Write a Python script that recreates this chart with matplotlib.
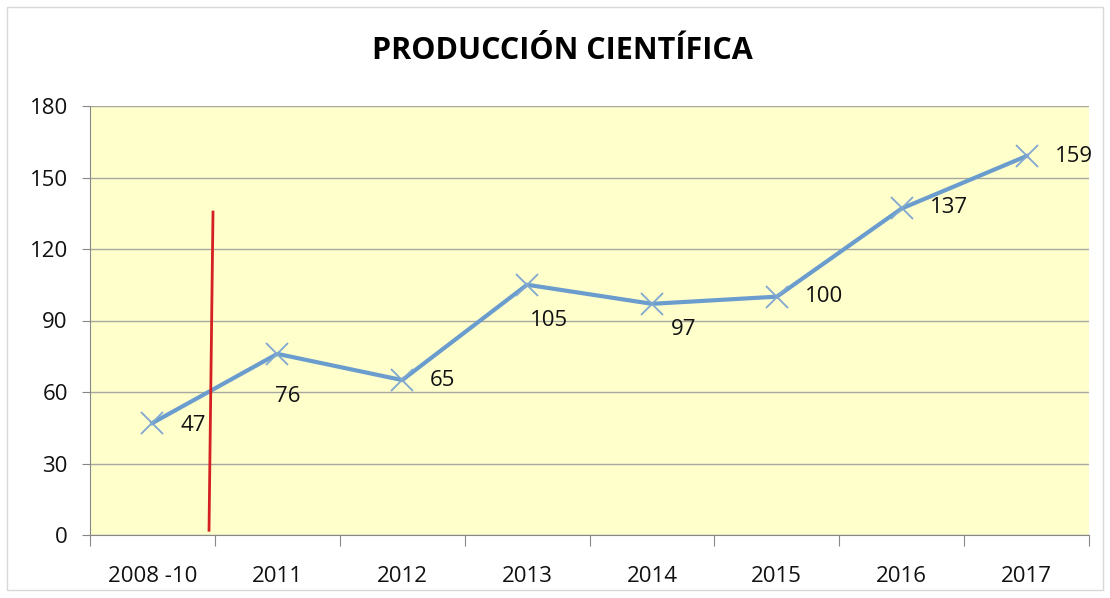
import numpy as np
import matplotlib.pyplot as plt
from matplotlib.patches import Rectangle

# Datos
categorias = ['2008 -10', '2011', '2012', '2013', '2014', '2015', '2016', '2017']
produccion = [47, 76, 65, 105, 97, 100, 137, 159]
y_ticks = [0, 30, 60, 90, 120, 150, 180]

# posición de cada etiqueta respecto al punto (en píxeles)
offsets = [(41, -3), (10, -43), (40, 0), (22, -36), (32, -26), (47, 0), (47, 1), (47, 0)]

# línea roja (separación de periodos)
linea_roja_x = [0.485, 0.453]
linea_roja_y = [135.5, 2.0]

plt.rcParams['font.family'] = ['Open Sans', 'DejaVu Sans']

fig = plt.figure(figsize=(11.1, 5.98), dpi=100)
ax = fig.add_axes([90 / 1110, 63 / 598, 999 / 1110, 429 / 598])

x = np.arange(len(categorias))
color = '#6A9DCE'
ax.plot(x, produccion, color=color, lw=3, zorder=3)
ax.plot(x, produccion, 'x', color='#80A8CF', ms=16, mew=1.3, zorder=4)

for xi, yi, (dx, dy) in zip(x, produccion, offsets):
    ax.annotate(str(yi), (xi, yi), xytext=(dx, dy), textcoords='offset pixels',
                ha='center', va='center', fontsize=16, color='#111111')

ax.plot(linea_roja_x, linea_roja_y, color='#D42020', lw=2, zorder=5)

ax.set_xlim(-0.5, len(categorias) - 0.5)
ax.set_ylim(0, 180)
ax.set_facecolor('#FFFFCC')
ax.set_yticks(y_ticks)
ax.set_yticklabels([str(v) for v in y_ticks], fontsize=16, color='#111111')
ax.grid(axis='y', color='#A8A8A0', lw=1)
ax.set_axisbelow(True)

# ticks entre categorías
ax.set_xticks(np.arange(-0.5, len(categorias), 1))
ax.set_xticklabels([])
ax.set_xticks(x, minor=True)
ax.set_xticklabels(categorias, minor=True, fontsize=16, color='#111111')
ax.tick_params(axis='x', which='major', length=8, color='#888888')
ax.tick_params(axis='x', which='minor', length=0, pad=22)
ax.tick_params(axis='y', length=6, color='#888888', pad=10)

for s in ['top', 'right']:
    ax.spines[s].set_visible(False)
for s in ['left', 'bottom']:
    ax.spines[s].set_color('#888888')

fig.text(562 / 1110, 1 - 51 / 598, 'PRODUCCIÓN CIENTÍFICA', ha='center', va='center',
         fontsize=22, fontweight='bold')

fig.patches.append(Rectangle((7 / 1110, 8 / 598), 1096 / 1110, 583 / 598, transform=fig.transFigure,
                             fill=False, edgecolor='#D8D8D8', lw=1))

fig.savefig('out.png', dpi=100)
